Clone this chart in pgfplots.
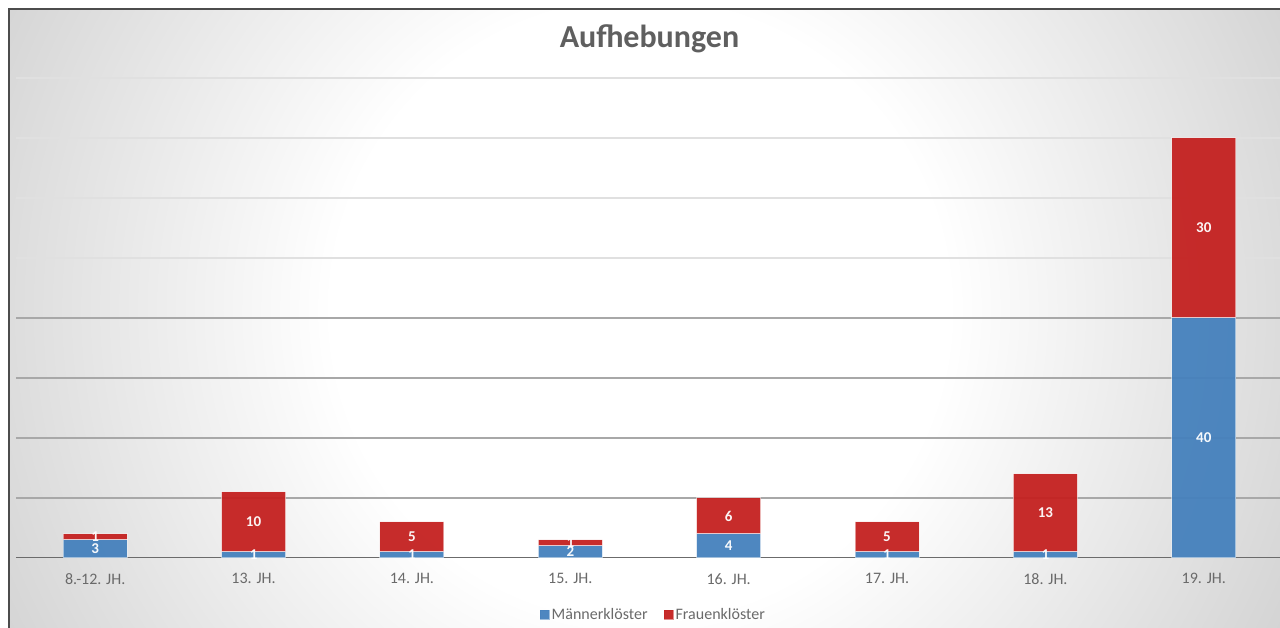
\documentclass[border=0pt]{standalone}
\usepackage{pgfplots}
\usepackage{pgfplotstable}
\pgfplotsset{compat=1.18}
\usepackage{fontspec}
\setmainfont{Carlito}
\definecolor{mblue}{HTML}{4581BD}
\definecolor{fred}{HTML}{C42120}
\definecolor{bgedge}{HTML}{BEBEBE}
\definecolor{txtgray}{HTML}{6A6A6A}
\definecolor{titlegray}{HTML}{5F5F5F}
\definecolor{gridd}{HTML}{A8A8A8}
\definecolor{gridl}{HTML}{E0E0E0}
\definecolor{axgray}{HTML}{6B6B6B}
\pgfdeclareradialshading{bgshade}{\pgfpoint{0bp}{0bp}}{color(0bp)=(white); color(11bp)=(white); color(33bp)=(bgedge); color(50bp)=(bgedge)}

\pgfplotstableread{
x m f
0 3 1
1 1 10
2 1 5
3 2 1
4 4 6
5 1 5
6 1 13
7 40 30
}\data

\begin{document}
\begin{tikzpicture}[x=1pt,y=1pt]
\fill[white] (0,0) rectangle (1280,628);
\begin{scope}
\clip (8,0) rectangle (1280,618);
\shade[shading=bgshade] (-60,-382) rectangle (1340,1018);
\end{scope}
\draw[line width=1.5pt, color=black!70] (8.75,-2) -- (8.75,618.75) -- (1285,618.75);
\node[anchor=base, font=\fontsize{32}{38}\selectfont\bfseries, text=titlegray] at (649.5,580) {Aufhebungen};
\begin{axis}[
  at={(16pt,70pt)}, anchor=south west, scale only axis,
  width=1267pt, height=480pt,
  ybar stacked, bar width=64pt,
  xmin=-0.5, xmax=7.5, ymin=0, ymax=80,
  axis line style={draw=none},
  major tick length=0pt,
  /pgf/number format/assume math mode=true,
  xtick={0,...,7},
  xticklabels={8.-12. JH., 13. JH., 14. JH., 15. JH., 16. JH., 17. JH., 18. JH., 19. JH.},
  xticklabel style={font=\fontsize{16}{19}\selectfont, text=txtgray},
  xticklabel shift=12pt,
  ytick={10,20,30,40},
  yticklabels={},
  ymajorgrids,
  major grid style={color=gridd, line width=1.2pt},
  extra y ticks={50,60,70,80},
  extra y tick labels={},
  extra y tick style={grid=major, major grid style={color=gridl, line width=1.5pt}},
  point meta=explicit,
  nodes near coords={\pgfmathprintnumber[assume math mode=true]{\pgfplotspointmeta}},
  nodes near coords style={font=\fontsize{15}{18}\selectfont\bfseries, text=white, anchor=center},
  legend columns=2,
  legend style={at={(0.503,-0.119)}, anchor=center, draw=none, fill=none,
    font=\fontsize{16}{19}\selectfont, text=txtgray,
    /tikz/every even column/.append style={column sep=14pt},
    nodes={inner xsep=2pt}},
]
\addplot[fill=mblue, draw=white, draw opacity=0.5, line width=1pt, fill opacity=0.95,
  legend image code/.code={\fill[mblue] (0pt,-4pt) rectangle (9pt,5pt);}]
  table[x=x, y=m, meta=m] {\data};
\addplot[fill=fred, draw=white, draw opacity=0.5, line width=1pt, fill opacity=0.95,
  legend image code/.code={\fill[fred] (0pt,-4pt) rectangle (9pt,5pt);}]
  table[x=x, y=f, meta=f] {\data};
\legend{Männerklöster, Frauenklöster}
\draw[line width=2.5pt, color=axgray] (axis cs:-0.5,0) -- (axis cs:7.5,0);
\end{axis}
\pgfresetboundingbox
\useasboundingbox (0,0) rectangle (1280,628);
\end{tikzpicture}
\end{document}
